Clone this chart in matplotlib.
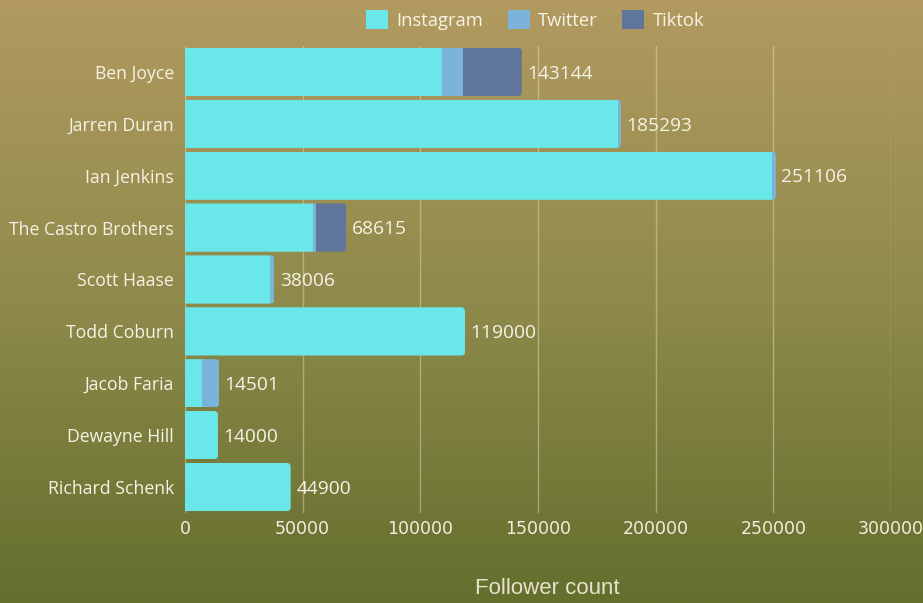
import numpy as np
import matplotlib
matplotlib.use("Agg")
import matplotlib.pyplot as plt
from matplotlib.patches import FancyBboxPatch, Patch
from matplotlib.colors import LinearSegmentedColormap

players = ["Ben Joyce", "Jarren Duran", "Ian Jenkins", "The Castro Brothers",
           "Scott Haase", "Todd Coburn", "Jacob Faria", "Dewayne Hill", "Richard Schenk"]
instagram = [109300, 184200, 249600, 54500, 36000, 119000, 7200, 14000, 44900]
twitter = [8800, 1093, 1506, 1200, 2006, 0, 7301, 0, 0]
tiktok = [25044, 0, 0, 12915, 0, 0, 0, 0, 0]
series_names = ["Instagram", "Twitter", "Tiktok"]
colors = ["#69E7E9", "#7BB3DB", "#60759A"]
xticks = [0, 50000, 100000, 150000, 200000, 250000, 300000]

W, H = 923, 603
fig = plt.figure(figsize=(W / 100, H / 100), dpi=100)

# gradient background
bg = fig.add_axes([0, 0, 1, 1], zorder=-10)
cmap = LinearSegmentedColormap.from_list("bg", ["#B29A60", "#8E8A4B", "#646F2D"])
grad = np.linspace(0, 1, 256).reshape(-1, 1)
bg.imshow(grad, aspect="auto", cmap=cmap, extent=[0, 1, 0, 1], origin="upper")
bg.axis("off")

ax = fig.add_axes([185 / W, 1 - 513 / H, (891 - 185) / W, (513 - 46) / H])
ax.patch.set_alpha(0)

n = len(players)
y = np.arange(n)
h = 0.93
ax.set_xlim(0, 300000)
ax.set_ylim(n - 0.5, -0.5)

data = [instagram, twitter, tiktok]
left = np.zeros(n)
bars_by_series = []
for vals, name, c in zip(data, series_names, colors):
    vals = np.array(vals, dtype=float)
    b = ax.barh(y, vals, left=left, height=h, color=c, label=name, zorder=3)
    bars_by_series.append(b)
    left = left + vals
totals = left

# rounded right ends via clip path
fig.canvas.draw()
p0 = ax.transData.transform((0, 0))
p1 = ax.transData.transform((1, 1))
px_per_x = abs(p1[0] - p0[0])
px_per_y = abs(p1[1] - p0[1])
r_px = 4.0
rx = r_px / px_per_x
ry = r_px / px_per_y
for i in range(n):
    clip = FancyBboxPatch((-50000, y[i] - h / 2), totals[i] + 50000, h,
                          boxstyle=f"round,pad=0,rounding_size={rx}",
                          mutation_aspect=ry / rx, transform=ax.transData)
    for b in bars_by_series:
        b.patches[i].set_clip_path(clip)

for i in range(n):
    ax.annotate(f"{int(round(totals[i]))}", (totals[i], y[i]), xytext=(4, -1.2),
                textcoords="offset points", va="center", ha="left",
                color="#F6F3E6", fontsize=13.8, family="Open Sans", zorder=5)

ax.set_yticks(y)
ax.set_yticklabels(players, family="Open Sans", fontsize=12.7, color="#F6F3E6")
ax.set_xticks(xticks)
ax.set_xticklabels([str(v) for v in xticks],
                   family=["Liberation Sans Narrow", "DejaVu Sans"], fontsize=12.5,
                   color="#F0EEDD")
ax.tick_params(axis="both", length=0)
ax.tick_params(axis="y", pad=8)
ax.tick_params(axis="x", pad=5)
for s in ax.spines.values():
    s.set_visible(False)
ax.grid(axis="x", color="#E8E0C0", alpha=0.45, linewidth=1, zorder=0)
ax.set_axisbelow(True)

fig.text(547 / W, 1 - 588 / H, "Follower count", ha="center", va="center",
         family="Liberation Sans", fontsize=16, color="#E6E2CC")

handles = [Patch(facecolor=c, edgecolor="none", label=nm) for c, nm in zip(colors, series_names)]
fig.legend(handles=handles, loc="center", bbox_to_anchor=(535 / W, 1 - 20 / H), ncol=3,
           frameon=False, prop={"family": "Open Sans", "size": 13.2}, labelcolor="#F6F3E6",
           handlelength=1.2, handleheight=1.2, handletextpad=0.45, columnspacing=1.35)

fig.savefig("out.png", dpi=100)
